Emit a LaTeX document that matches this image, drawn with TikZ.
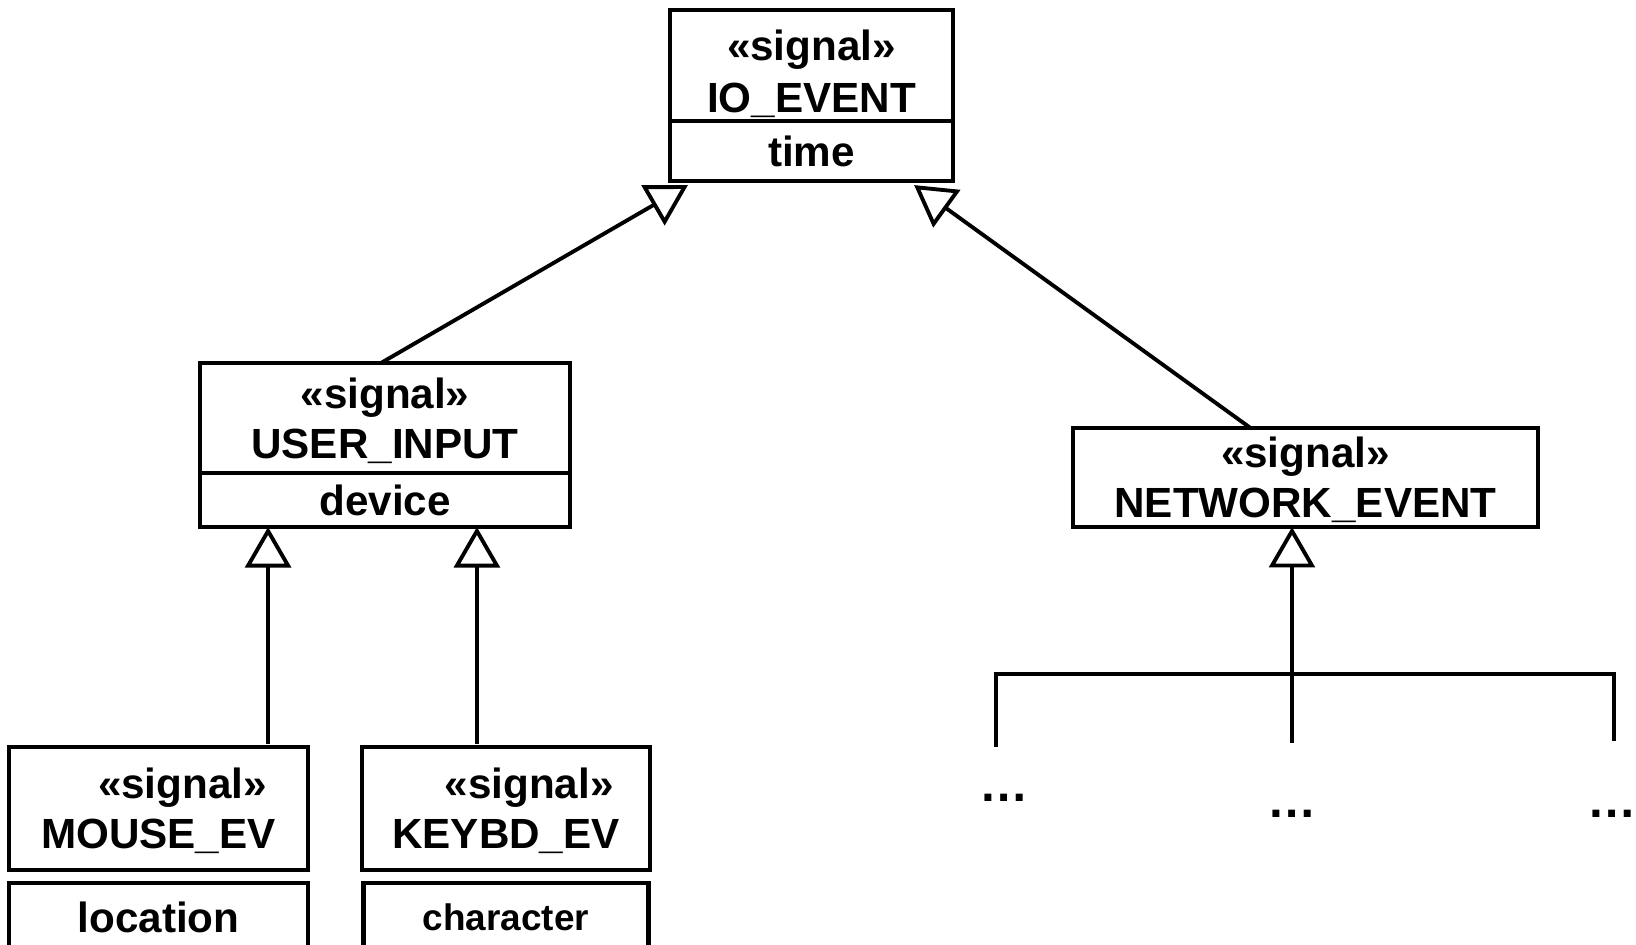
\documentclass[tikz,border=0pt]{standalone}
\usepackage{fontspec}
\setmainfont{Liberation Sans}
\usepackage{tikz}
\usetikzlibrary{arrows.meta,positioning,calc}

\begin{document}
\begin{tikzpicture}[x=0.01cm, y=-0.01cm,
  cls/.style={draw, line width=1.2pt, outer sep=0pt, inner sep=0pt, align=center,
              font=\bfseries\fontsize{12}{14.2}\selectfont},
  clsname/.style={cls, text depth=0pt},
  gen/.style={line width=1.1pt, -{Triangle[open, length=11.5pt, width=13pt]}},
  edge/.style={line width=1.1pt},
  more/.style={font=\bfseries\fontsize{14}{14}\selectfont}
]
  \useasboundingbox (0,0) rectangle (1636,944);

  \node[clsname, minimum width=2.83cm, minimum height=1.11cm, text height=26.5pt,
        font=\bfseries\fontsize{12}{14.8}\selectfont] (io) at (811.5, 65.5)
    {«signal»\\IO\_EVENT};
  \node[cls, minimum width=2.83cm, minimum height=0.60cm, below=0pt of io] (iot) {time};

  \node[clsname, minimum width=3.70cm, minimum height=1.10cm] (ui) at (385, 418)
    {«signal»\\USER\_INPUT};
  \node[cls, minimum width=3.70cm, minimum height=0.54cm, below=0pt of ui] (uid) {device};

  \node[clsname, minimum width=4.65cm, minimum height=0.99cm] (ne) at (1305.5, 477.5)
    {«signal»\\NETWORK\_EVENT};

  \node[clsname, minimum width=2.99cm, minimum height=1.23cm] (ms) at (158.5, 808.5)
    {\hspace*{0.48cm}«signal»\\MOUSE\_EV};
  \node[cls, minimum width=2.99cm, minimum height=0.69cm, below=0.13cm of ms] (msl) {location};

  \node[clsname, minimum width=2.88cm, minimum height=1.23cm] (kb) at (506, 808.5)
    {\hspace*{0.46cm}«signal»\\KEYBD\_EV};
  \node[cls, minimum width=2.85cm, minimum height=0.69cm, below=0.13cm of kb,
        font=\bfseries\fontsize{10.5}{12}\selectfont] (kbc) {character};

  \node[more] (d1) at (1004, 798) {…};
  \node[more] (d2) at (1292, 814) {…};
  \node[more] (d3) at (1612, 814) {…};

  \coordinate (m1) at ($(ms.north east)+(-40,-3)$);
  \coordinate (k1) at ($(kb.north west)+(115,-3)$);
  \coordinate (n1) at (1292, 743);
  \coordinate (bl) at (996, 747);
  \coordinate (bar) at (1292, 674);
  \coordinate (br) at (1614, 741);

  \draw[gen] ($(ui.north)+(-4,0)$) -- ($(iot.south west)+(18,4)$);
  \draw[gen] ($(ne.north)+(-55,0)$) -- ($(iot.south east)+(-39,4)$);
  \draw[gen] (m1) -- (m1 |- uid.south);
  \draw[gen] (k1) -- (k1 |- uid.south);
  \draw[gen] (n1) -- (n1 |- ne.south);
  \draw[edge] (bl) |- (bar) -| (br);
\end{tikzpicture}
\end{document}
